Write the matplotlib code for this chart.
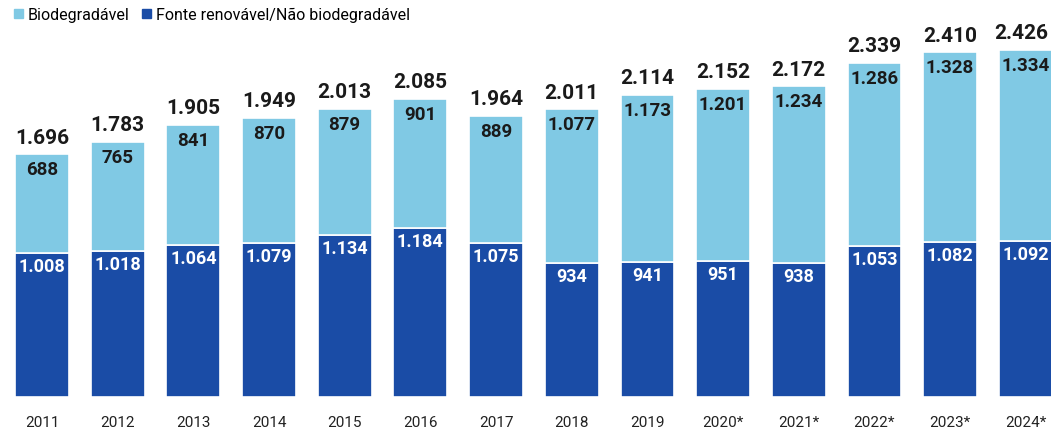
import numpy as np
import matplotlib.pyplot as plt
from matplotlib.patches import Patch

years = ['2011', '2012', '2013', '2014', '2015', '2016', '2017', '2018', '2019',
         '2020*', '2021*', '2022*', '2023*', '2024*']
biodegradavel = [688, 765, 841, 870, 879, 901, 889, 1077, 1173, 1201, 1234, 1286, 1328, 1334]
nao_biodegradavel = [1008, 1018, 1064, 1079, 1134, 1184, 1075, 934, 941, 951, 938, 1053, 1082, 1092]
totals = [1696, 1783, 1905, 1949, 2013, 2085, 1964, 2011, 2114, 2152, 2172, 2339, 2410, 2426]

LIGHT = '#80c9e4'
DARK = '#1a4ca6'
FONT = ['Roboto', 'DejaVu Sans']


def fmt(v):
  # thousands separator as a dot, pt-BR style
  return '{:,}'.format(v).replace(',', '.')


fig = plt.figure(figsize=(10.51, 4.35), dpi=100)
ax = fig.add_axes([0, 1 - 398/435, 1, 398/435])
x0, x1 = -0.555, 13.334

x = np.arange(len(years))
w = 0.71
ax.bar(x, nao_biodegradavel, w, color=DARK, edgecolor='white', linewidth=1.2)
ax.bar(x, biodegradavel, w, bottom=nao_biodegradavel, color=LIGHT,
       edgecolor='white', linewidth=1.2)

for i in range(len(years)):
  d = nao_biodegradavel[i]
  b = biodegradavel[i]
  ax.text(x[i], d - 90, fmt(d), ha='center', va='center', color='white',
          fontsize=13, fontweight='bold', family=FONT)
  ax.text(x[i], d + b - 105, fmt(b), ha='center', va='center', color='#1a1a1a',
          fontsize=13.5, fontweight='bold', family=FONT)
  # the last total would run past the right edge, so nudge it left a little
  dx = -0.06 if i == len(years) - 1 else 0
  ax.text(x[i] + dx, totals[i] + 55, fmt(totals[i]), ha='center', va='bottom',
          color='#1a1a1a', fontsize=15, fontweight='bold', family=FONT)
  fig.text((x[i] - x0) / (x1 - x0), 1 - 423/435, years[i], ha='center',
           va='center', color='#222222', fontsize=11, family=FONT)

ax.set_xlim(x0, x1)
ax.set_ylim(0, 398/0.143)
ax.axis('off')

handles = [Patch(color=LIGHT, label='Biodegradável'),
           Patch(color=DARK, label='Fonte renovável/Não biodegradável')]
fig.legend(handles=handles, loc='upper left', bbox_to_anchor=(0.0, 1.015), ncol=2,
           frameon=False, handlelength=0.55, handleheight=0.55, handletextpad=0.3,
           columnspacing=0.8, prop={'family': FONT, 'size': 11.5})

fig.savefig('out.png', dpi=100)
